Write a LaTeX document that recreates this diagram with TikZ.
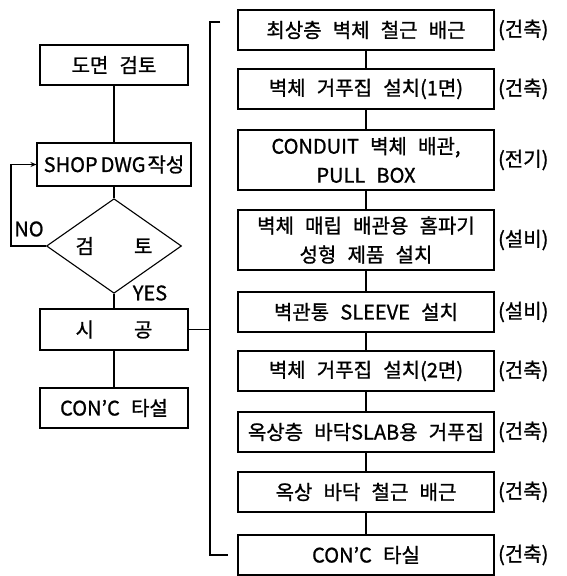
\documentclass[tikz,border=0pt]{standalone}
\usepackage{fontspec}
\setmainfont{Noto Sans CJK KR}[WordSpace=2.5, FakeBold=1]
\usetikzlibrary{calc, arrows.meta, shapes.geometric, positioning}

\begin{document}
\begin{tikzpicture}[x=1pt, y=-1pt, line width=1.1pt,
  every node/.style={font=\fontsize{20}{29}\selectfont},
  stepbox/.style={draw, rectangle, inner sep=2pt, align=center, minimum height=40},
  leftbox/.style={stepbox, minimum width=148},
  rightbox/.style={stepbox, minimum width=256},
  trade/.style={inner sep=0pt}]

\useasboundingbox (0,0) rectangle (567,576);

% ------------------------------------------------------------------
% LEFT COLUMN: review and construction
% ------------------------------------------------------------------
\node[leftbox] (rev) at (114,65) {도면 검토};
\node[leftbox, minimum width=154, minimum height=43, inner sep=0pt] (shop) at (114,164.5)
  {SHOP\hspace{3pt}DWG\hspace{2pt}작성};
\node[draw, diamond, minimum width=135, minimum height=72, inner sep=0pt] (chk) at (114,246) {검\qquad 토};
\node[leftbox, minimum height=41] (build) at (114,329.5) {시\qquad 공};
\node[leftbox] (conc) at (114,408) {CON'C 타설};

\draw (rev) -- (shop);
\draw (shop) -- (chk);
\draw (chk) -- (build);
\draw (build) -- (conc);

% NO loop back to the shop drawing
\draw[-{Stealth[length=6pt, width=5pt]}] (chk.west) -- ++(-35,0) |- (shop.west);
\node (no) at (29,229) {NO};
\node (yes) at (150,293) {YES};

% ------------------------------------------------------------------
% BUS between the columns
% ------------------------------------------------------------------
\coordinate (busN) at (210,22);
\coordinate (busS) at (210,555);
\coordinate (bt) at (220,22);
\coordinate (bb) at (228,555);
\draw (bt) -- (busN) -- (busS) -- (bb);
\draw (build.east) -- (build.east -| busN);

% ------------------------------------------------------------------
% RIGHT COLUMN: work steps with trades
% ------------------------------------------------------------------
\foreach \i/\yy/\hh/\txt/\who in {
    1/30/40/{최상층 벽체 철근 배근}/건축,
    2/89/40/{벽체 거푸집 설치(1면)}/건축,
    3/160/60/{CONDUIT 벽체 배관,\\PULL BOX}/전기,
    4/240/60/{벽체 매립 배관용 홈파기\\성형 제품 설치}/설비,
    5/312/40/{벽관통 SLEEVE 설치}/설비,
    6/371/40/{벽체 거푸집 설치(2면)}/건축,
    7/432/40/{옥상층 바닥SLAB용 거푸집}/건축,
    8/492/40/{옥상 바닥 철근 배근}/건축,
    9/555/40/{CON'C 타실}/건축} {
  \node[rightbox, minimum height=\hh] (s\i) at (366,\yy) {\txt};
  \node[trade, right=3pt of s\i] (t\i) {(\who)};
}

\foreach \i [count=\j from 2] in {1,...,8}
  \draw (s\i) -- (s\j);

\end{tikzpicture}
\end{document}
